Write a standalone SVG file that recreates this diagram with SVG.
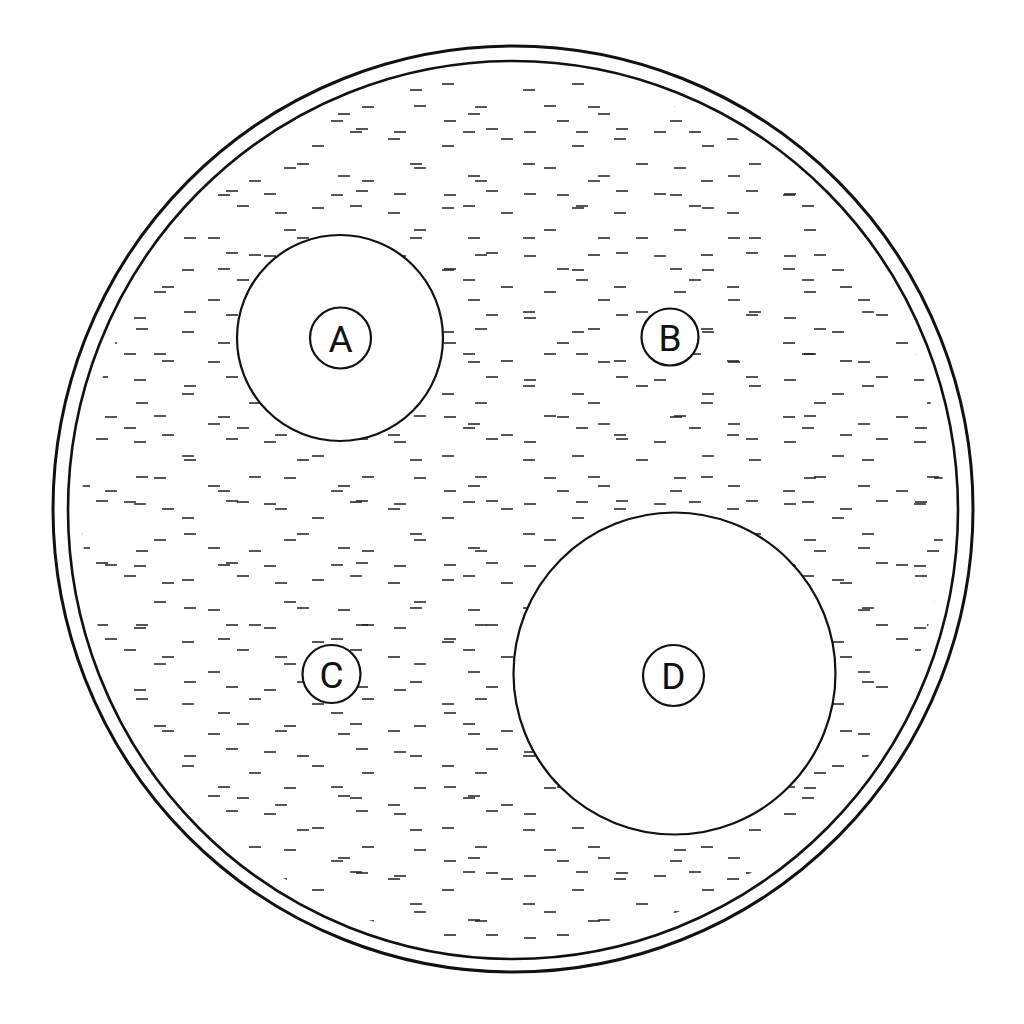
<svg xmlns="http://www.w3.org/2000/svg" width="1024" height="1024" viewBox="0 0 1024 1024">
<style>
.ring{fill:none;stroke:#111;}
.node{fill:#fff;stroke:#111;stroke-width:2.2;}
.lbl{font-family:Roboto,"Liberation Sans",sans-serif;font-size:37px;fill:#111;text-anchor:middle;dominant-baseline:central;}
.d{stroke:#1e1e1e;stroke-width:1.7;fill:none;}
</style>
<defs>
<pattern id="p1" width="130" height="62" patternUnits="userSpaceOnUse">
<path class="d" d="M4 8h12M52 22h12M96 5h12M24 44h12M78 52h12"/>
</pattern>
<pattern id="p2" x="7" y="3" width="113" height="74" patternUnits="userSpaceOnUse">
<path class="d" d="M16 30h12M64 13h12M98 44h12M42 62h12M4 55h12"/>
</pattern>
<clipPath id="inner"><ellipse cx="513" cy="510" rx="431" ry="435"/></clipPath>
</defs>
<rect width="1024" height="1024" fill="#fff"/>
<g id="medium" clip-path="url(#inner)">
<rect x="60" y="55" width="910" height="910" fill="url(#p1)"/>
<rect x="60" y="55" width="910" height="910" fill="url(#p2)"/>
</g>
<g id="outer-wall">
<ellipse class="ring" cx="513" cy="509" rx="460" ry="463" stroke-width="3"/>
<ellipse class="ring" cx="513" cy="510" rx="445" ry="449" stroke-width="2.6"/>
</g>
<g id="region-A"><circle class="node" cx="340" cy="338" r="103"/></g>
<g id="region-D"><circle class="node" cx="674.5" cy="673.5" r="161"/></g>
<g id="node-A"><circle class="node" cx="340.5" cy="338" r="30.5"/><text class="lbl" x="340.5" y="339">A</text></g>
<g id="node-B"><circle class="node" cx="670" cy="337" r="28.5"/><text class="lbl" x="670" y="338">B</text></g>
<g id="node-C"><circle class="node" cx="331.5" cy="674" r="29"/><text class="lbl" x="331.5" y="675">C</text></g>
<g id="node-D"><circle class="node" cx="673.5" cy="675.5" r="30.5"/><text class="lbl" x="673.5" y="676.5">D</text></g>
<g id="connectors"></g>
</svg>
